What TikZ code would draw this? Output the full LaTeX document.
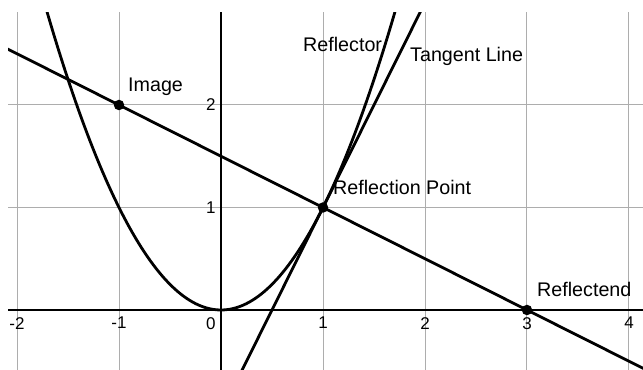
\documentclass[tikz,border=0pt]{standalone}
\usepackage{fontspec}
\setmainfont{Liberation Sans}
\begin{document}
\begin{tikzpicture}[x=102bp,y=102.5bp,
  gridline/.style={draw=black!32, line width=1bp},
  axisline/.style={draw=black, line width=1.6bp},
  curve/.style={draw=black, line width=2.8bp, line cap=round},
  dot/.style={circle, fill=black, inner sep=0pt, minimum size=10.5bp},
  lbl/.style={inner sep=0pt, anchor=base west, font=\fontsize{19.7bp}{22bp}\selectfont},
  ticklbl/.style={inner sep=0pt, font=\fontsize{17bp}{19bp}\selectfont}]
\useasboundingbox (-2.1667,-0.5854) rectangle (4.1373,3.0244);
\fill[white] (-2.1667,-0.5854) rectangle (4.1373,3.0244);
\def\xl{-2.088}\def\xr{4.1373}\def\yb{-0.5854}\def\yt{2.907}
% grid
\foreach \x in {-2,-1,1,2,3,4} \draw[gridline] (\x,\yb) -- (\x,\yt);
\foreach \y in {1,2} \draw[gridline] (\xl,\y) -- (\xr,\y);
% axes
\coordinate (xa) at (\xl,0); \coordinate (xb) at (\xr,0);
\coordinate (ya) at (0,\yb); \coordinate (yb) at (0,\yt);
\draw[axisline] (xa) -- (xb);
\draw[axisline] (ya) -- (yb);
% tick labels
\foreach \x/\t in {-2/-2,-1/-1,1/1,2/2,3/3,4/4}
  \node[ticklbl, anchor=north] (tx\x) at (\x,-0.068) {\t};
\node[ticklbl, anchor=north east] (t0) at (-0.05,-0.068) {0};
\foreach \y in {1,2}
  \node[ticklbl, anchor=east] (ty\y) at (-0.05,\y) {\y};
% points
\node[dot] (img) at (-1,2) {};
\node[dot] (rp) at (1,1) {};
\node[dot] (rend) at (3,0) {};
% curves
\coordinate (tA) at (0.2,-0.6);
\coordinate (tB) at (1.96,2.92);
\coordinate (lA) at (-2.2,2.6);
\coordinate (lB) at (4.2,-0.6);
\begin{scope}
\clip (\xl,\yb) rectangle (\xr,\yt);
\draw[curve] plot[domain=-1.75:1.75, samples=120] (\x,{\x*\x});
\draw[curve] (tA) -- (tB);
\draw[curve] (lA) -- (lB);
\end{scope}
% labels
\node[lbl] (limg) at (-0.912,2.127) {Image};
\node[lbl] (lrefl) at (0.804,2.517) {Reflector};
\node[lbl] (ltan) at (1.853,2.42) {Tangent Line};
\node[lbl] (lrp) at (1.098,1.122) {Reflection Point};
\node[lbl] (lrend) at (3.098,0.127) {Reflectend};
\end{tikzpicture}
\end{document}
